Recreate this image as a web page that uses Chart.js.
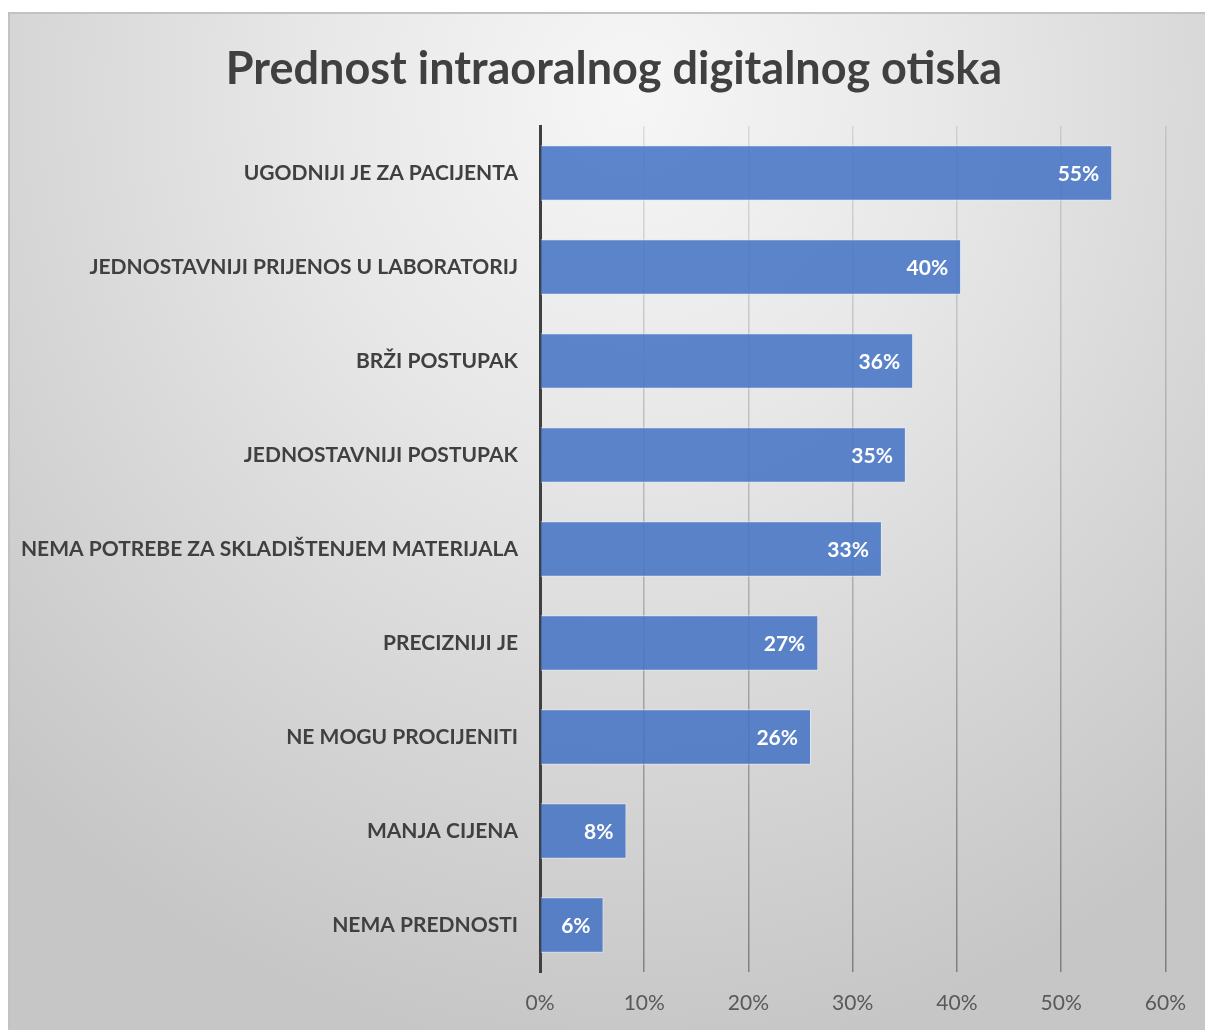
<!DOCTYPE html>
<html>
<head>
<meta charset="utf-8">
<script src="https://cdn.jsdelivr.net/npm/chart.js@4.4.1/dist/chart.umd.min.js"></script>
<style>
  html, body { margin: 0; padding: 0; background: #fff; }
  #frame {
    position: absolute;
    left: 8px; top: 12px;
    width: 1197px; height: 1018px;
    box-sizing: border-box;
    border-top: 2px solid #c2c2c2;
    border-left: 2px solid #c2c2c2;
    background: radial-gradient(ellipse 75% 95% at 52% 8%, #f6f6f6 0%, #e8e8e8 35%, #d8d8d8 65%, #c6c6c6 100%);
  }
  #wrap { position: absolute; left: 0; top: 0; width: 1195px; height: 1016px; }
</style>
</head>
<body>
<div id="frame"><div id="wrap"><canvas id="chart"></canvas></div></div>
<script>
const categories = [
  "UGODNIJI JE ZA PACIJENTA",
  "JEDNOSTAVNIJI PRIJENOS U LABORATORIJ",
  "BRŽI POSTUPAK",
  "JEDNOSTAVNIJI POSTUPAK",
  "NEMA POTREBE ZA SKLADIŠTENJEM MATERIJALA",
  "PRECIZNIJI JE",
  "NE MOGU PROCIJENITI",
  "MANJA CIJENA",
  "NEMA PREDNOSTI"
];
const values = [54.9, 40.4, 35.8, 35.1, 32.8, 26.7, 26.0, 8.3, 6.1];
const valueLabels = ["55%", "40%", "36%", "35%", "33%", "27%", "26%", "8%", "6%"];
const xTicks = ["0%", "10%", "20%", "30%", "40%", "50%", "60%"];

const FONT = "Lato, 'Open Sans', sans-serif";

// white labels inside the end of each bar
const barLabels = {
  id: "barLabels",
  afterDatasetsDraw(chart) {
    const ctx = chart.ctx;
    const meta = chart.getDatasetMeta(0);
    ctx.save();
    ctx.font = "bold 21px " + FONT;
    ctx.fillStyle = "#ffffff";
    ctx.textAlign = "right";
    ctx.textBaseline = "middle";
    meta.data.forEach((bar, i) => {
      ctx.fillText(valueLabels[i], bar.x - 13, bar.y + 1);
    });
    ctx.restore();
  }
};

function gridColor(context) {
  const ca = context.chart.chartArea;
  if (!ca) return "rgba(0,0,0,0.15)";
  const g = context.chart.ctx.createLinearGradient(0, ca.top, 0, ca.bottom);
  g.addColorStop(0, "rgba(0,0,0,0.10)");
  g.addColorStop(0.5, "rgba(0,0,0,0.2)");
  g.addColorStop(1, "rgba(0,0,0,0.36)");
  return g;
}

new Chart(document.getElementById("chart"), {
  type: "bar",
  data: {
    labels: categories,
    datasets: [{
      data: values,
      yAxisID: "y",
      backgroundColor: "rgba(68,114,196,0.86)",
      borderColor: "rgba(225,235,252,0.8)",
      borderWidth: 1,
      barPercentage: 0.59,
      categoryPercentage: 1.0
    }]
  },
  options: {
    indexAxis: "y",
    responsive: true,
    maintainAspectRatio: false,
    animation: false,
    // title is centred a bit right of the canvas middle, so the layout runs
    // past the right edge and an empty right axis holds the plot back
    layout: { padding: { left: 0, right: -13, top: 0, bottom: 0 } },
    plugins: {
      legend: { display: false },
      tooltip: { enabled: false },
      title: {
        display: true,
        text: "Prednost intraoralnog digitalnog otiska",
        color: "#404040",
        font: { family: FONT, size: 45, weight: "bold" },
        padding: { top: 28, bottom: 30 }
      }
    },
    scales: {
      x: {
        min: 0,
        max: 60,
        ticks: {
          stepSize: 10,
          color: "#595959",
          padding: 19,
          font: { family: FONT, size: 21 },
          callback: (v, i) => xTicks[i]
        },
        grid: { color: gridColor, lineWidth: 1.5, drawTicks: false },
        border: { display: false },
        afterFit: (s) => { s.height = 58; }
      },
      y: {
        ticks: {
          color: "#404040",
          padding: 22,
          font: { family: FONT, size: 21, weight: "bold" }
        },
        grid: { display: false, drawTicks: false },
        border: { display: true, color: "#404040", width: 3 },
        afterFit: (s) => { s.width = 530; }
      },
      y2: {
        type: "linear",
        position: "right",
        ticks: { display: false },
        grid: { display: false, drawTicks: false },
        border: { display: false },
        afterFit: (s) => { s.width = 51; }
      }
    }
  },
  plugins: [barLabels]
});
</script>
</body>
</html>
